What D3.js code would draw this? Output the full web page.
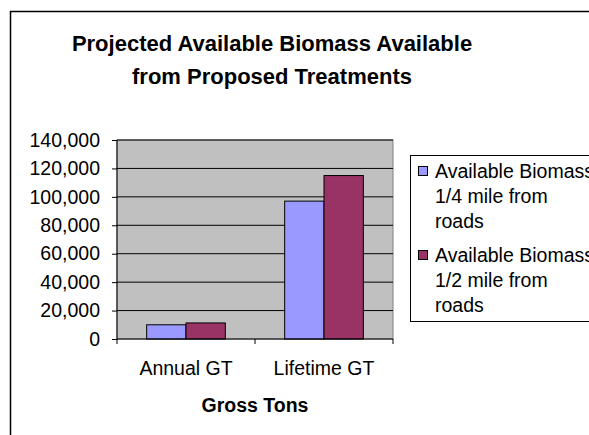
<!DOCTYPE html>
<html>
<head>
<meta charset="utf-8">
<script src="https://cdn.jsdelivr.net/npm/d3@7"></script>
<style>
	body { margin: 0; background: #fff; }
	svg { display: block; font-family: "Liberation Sans", Arial, sans-serif; }
</style>
</head>
<body>
<svg width="589" height="435"></svg>
<script>
var categories = ['Annual GT', 'Lifetime GT'];
var seriesNames = ['Available Biomass 1/4 mile from roads', 'Available Biomass 1/2 mile from roads'];
var quarterMile = [10000, 97000];
var halfMile = [11300, 115000];
var yTicks = [0, 20000, 40000, 60000, 80000, 100000, 120000, 140000];
var legendLines = [
	['Available Biomass', '1/4 mile from', 'roads'],
	['Available Biomass', '1/2 mile from', 'roads']
];
var colors = ['#9999ff', '#993366'];

function main() {
	var svg = d3.select('svg');

	// outer chart border (runs off the right and bottom edges)
	svg.append('rect')
		.attr('x', 10.5).attr('y', 11.5)
		.attr('width', 600).attr('height', 440)
		.attr('fill', '#fff')
		.attr('stroke', '#000')
		.attr('stroke-width', 1.5);

	svg.append('text')
		.attr('x', 272).attr('y', 51)
		.attr('text-anchor', 'middle')
		.style('font-size', '22px').style('font-weight', 'bold')
		.text('Projected Available Biomass Available');
	svg.append('text')
		.attr('x', 272).attr('y', 84)
		.attr('text-anchor', 'middle')
		.style('font-size', '22px').style('font-weight', 'bold')
		.text('from Proposed Treatments');

	var left = 117, right = 393, top = 140, bottom = 339;

	var y = d3.scaleLinear().domain([0, 140000]).range([bottom, top]);
	var x0 = d3.scaleBand().domain(categories).range([left, right])
		.paddingInner(0.43).paddingOuter(0.215);
	var x1 = d3.scaleBand().domain(seriesNames).range([0, x0.bandwidth()]);

	// plot area
	svg.append('rect')
		.attr('x', left).attr('y', top)
		.attr('width', right - left).attr('height', bottom - top)
		.attr('fill', '#c0c0c0')
		.attr('stroke', '#808080');

	// gridlines
	svg.append('g')
		.selectAll('line')
		.data(yTicks.filter(function(d){ return d > 0; }))
		.enter().append('line')
		.attr('x1', left).attr('x2', right)
		.attr('y1', function(d){ return y(d); })
		.attr('y2', function(d){ return y(d); })
		.attr('stroke', '#000');

	var data = categories.map(function(c, i){
		return {cat: c, vals: [quarterMile[i], halfMile[i]]};
	});

	var groups = svg.append('g').selectAll('g')
		.data(data)
		.enter().append('g')
		.attr('transform', function(d){ return 'translate(' + x0(d.cat) + ',0)'; });
	groups.selectAll('rect')
		.data(function(d){ return d.vals.map(function(v, j){ return {name: seriesNames[j], v: v, j: j}; }); })
		.enter().append('rect')
		.attr('x', function(d){ return x1(d.name); })
		.attr('y', function(d){ return y(d.v); })
		.attr('width', x1.bandwidth())
		.attr('height', function(d){ return bottom - y(d.v); })
		.attr('fill', function(d){ return colors[d.j]; })
		.attr('stroke', '#000')
		.attr('stroke-width', 1);

	// y axis
	var yAxis = svg.append('g')
		.attr('transform', 'translate(' + left + ',0)')
		.call(d3.axisLeft(y).tickValues(yTicks).tickSize(5).tickPadding(12)
			.tickFormat(d3.format(',')));
	yAxis.selectAll('text').style('font-size', '19.5px').attr('fill', '#000');
	yAxis.selectAll('line').attr('stroke', '#000');
	yAxis.select('.domain').attr('stroke', '#000').attr('d', 'M0,' + top + 'V' + bottom);

	// x axis with ticks between categories
	var xAxis = svg.append('g').attr('transform', 'translate(0,' + bottom + ')');
	xAxis.append('line').attr('x1', left).attr('x2', right).attr('stroke', '#000');
	xAxis.selectAll('.tk')
		.data([left].concat(categories.map(function(c){ return x0(c) + x0.bandwidth() + x0.step() * x0.paddingInner() / 2; })))
		.enter().append('line')
		.attr('class', 'tk')
		.attr('x1', function(d){ return d; }).attr('x2', function(d){ return d; })
		.attr('y1', 0).attr('y2', 5)
		.attr('stroke', '#000');
	xAxis.selectAll('.lbl')
		.data(categories)
		.enter().append('text')
		.attr('class', 'lbl')
		.attr('x', function(d){ return x0(d) + x0.bandwidth() / 2; })
		.attr('y', 36)
		.attr('text-anchor', 'middle')
		.style('font-size', '19.5px')
		.text(function(d){ return d; });

	svg.append('text')
		.attr('x', 255).attr('y', 412)
		.attr('text-anchor', 'middle')
		.style('font-size', '19.5px').style('font-weight', 'bold')
		.text('Gross Tons');

	// legend
	svg.append('rect')
		.attr('x', 410.5).attr('y', 155.5)
		.attr('width', 200).attr('height', 166)
		.attr('fill', '#fff')
		.attr('stroke', '#000');
	var entryY = [178, 262];
	var leg = svg.append('g').selectAll('g')
		.data(legendLines)
		.enter().append('g')
		.attr('transform', function(d, i){ return 'translate(0,' + entryY[i] + ')'; });
	leg.append('rect')
		.attr('x', 418.5).attr('y', -11.5)
		.attr('width', 9).attr('height', 9)
		.attr('fill', function(d, i){ return colors[i]; })
		.attr('stroke', '#000');
	leg.selectAll('text')
		.data(function(d){ return d; })
		.enter().append('text')
		.attr('x', 435)
		.attr('y', function(d, k){ return k * 25; })
		.style('font-size', '19.5px')
		.text(function(d){ return d; });
}
main();
</script>
</body>
</html>
